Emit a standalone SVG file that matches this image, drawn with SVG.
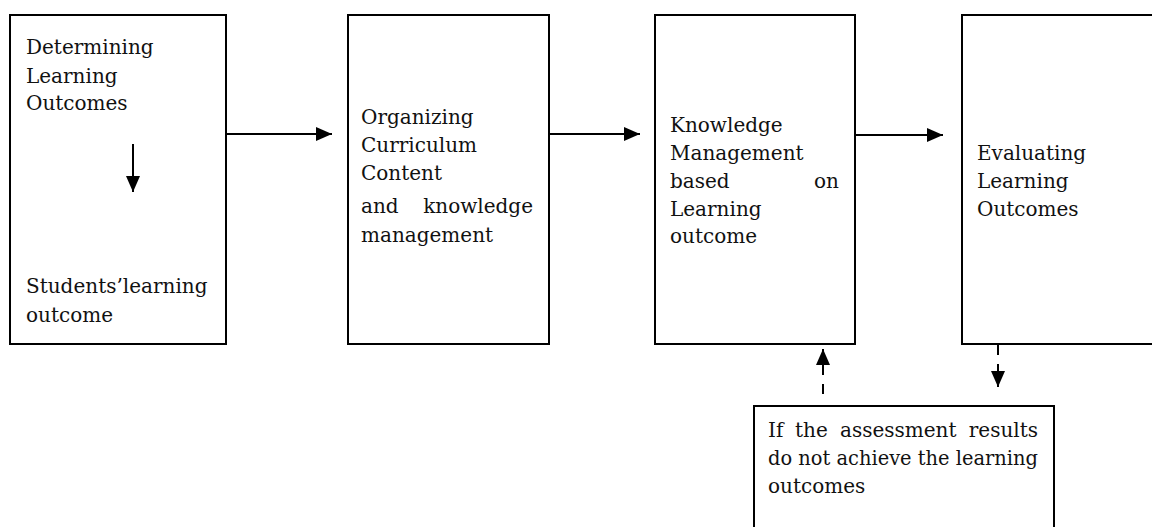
<svg xmlns="http://www.w3.org/2000/svg" width="1152" height="527" viewBox="0 0 1152 527">
<style>
.box{fill:#fff;stroke:#000;stroke-width:2}
.t{font-family:"DejaVu Serif","Liberation Serif",serif;font-size:20px;fill:#111}
.c{stroke:#000;stroke-width:2;fill:none}
.d{stroke:#000;stroke-width:2;fill:none;stroke-dasharray:10 9}
</style>
<defs>
<marker id="ah" viewBox="0 0 16 14" refX="16" refY="7" markerWidth="16" markerHeight="14" markerUnits="userSpaceOnUse" orient="auto">
<path d="M0,0 L16,7 L0,14 Z" fill="#000"/>
</marker>
</defs>
<rect width="1152" height="527" fill="#fff"/>
<g id="node-determining">
<rect class="box" x="10" y="15" width="216" height="329"/>
<text class="t" x="26" y="54">Determining</text>
<text class="t" x="26" y="83">Learning</text>
<text class="t" x="26" y="110">Outcomes</text>
<text class="t" x="26" y="293">Students’learning</text>
<text class="t" x="26" y="322">outcome</text>
</g>
<g id="node-organizing">
<rect class="box" x="348" y="15" width="201" height="329"/>
<text class="t" x="361" y="124">Organizing</text>
<text class="t" x="361" y="152">Curriculum</text>
<text class="t" x="361" y="180">Content</text>
<text class="t" x="361" y="213">and</text>
<text class="t" x="533" y="213" text-anchor="end">knowledge</text>
<text class="t" x="361" y="242">management</text>
</g>
<g id="node-knowledge">
<rect class="box" x="655" y="15" width="200" height="329"/>
<text class="t" x="670" y="132">Knowledge</text>
<text class="t" x="670" y="160">Management</text>
<text class="t" x="670" y="188">based</text>
<text class="t" x="839" y="188" text-anchor="end">on</text>
<text class="t" x="670" y="216">Learning</text>
<text class="t" x="670" y="243">outcome</text>
</g>
<g id="node-evaluating">
<rect class="box" x="962" y="15" width="220" height="329"/>
<text class="t" x="977" y="160">Evaluating</text>
<text class="t" x="977" y="188">Learning</text>
<text class="t" x="977" y="216">Outcomes</text>
</g>
<g id="node-assessment">
<rect class="box" x="754" y="406" width="300" height="140"/>
<text class="t" x="768" y="437">If</text>
<text class="t" x="795" y="437">the</text>
<text class="t" x="840" y="437">assessment</text>
<text class="t" x="1038" y="437" text-anchor="end">results</text>
<text class="t" x="768" y="465" textLength="270" lengthAdjust="spacingAndGlyphs">do not achieve the learning</text>
<text class="t" x="768" y="493">outcomes</text>
</g>
<g id="connectors">
<line class="c" x1="133" y1="144" x2="133" y2="192" marker-end="url(#ah)"/>
<line class="c" x1="227" y1="134" x2="332" y2="134" marker-end="url(#ah)"/>
<line class="c" x1="550" y1="134" x2="640" y2="134" marker-end="url(#ah)"/>
<line class="c" x1="856" y1="135" x2="943" y2="135" marker-end="url(#ah)"/>
<line class="d" x1="823" y1="394" x2="823" y2="349" marker-end="url(#ah)"/>
<line class="d" x1="998" y1="345" x2="998" y2="387" marker-end="url(#ah)" stroke-dasharray="10 17"/>
</g>
</svg>
